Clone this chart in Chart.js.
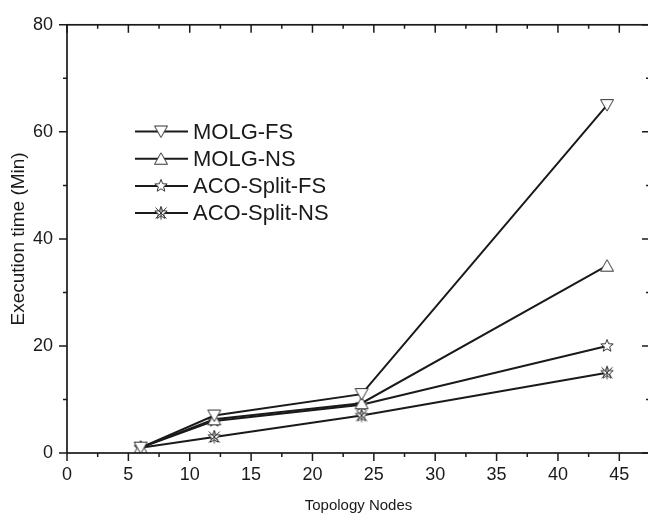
<!DOCTYPE html>
<html><head><meta charset="utf-8">
<script src="https://cdn.jsdelivr.net/npm/chart.js@4/dist/chart.umd.min.js"></script>
<style>html,body{margin:0;padding:0;background:#fff;overflow:hidden;width:648px;height:515px}#wrap{position:relative;width:651px;height:515px}</style>
</head><body><div id="wrap"><canvas id="c"></canvas></div>
<script>
// ---- data ----
const nodes = [6, 12, 24, 44];
const molgFS = [1, 7, 11, 65];
const molgNS = [1, 6.3, 9.3, 35];
const acoFS = [1, 6, 9, 20];
const acoNS = [1, 3, 7, 15];
const seriesNames = ['MOLG-FS', 'MOLG-NS', 'ACO-Split-FS', 'ACO-Split-NS'];
const xTickLabels = [0, 5, 10, 15, 20, 25, 30, 35, 40, 45];
const yTickLabels = [0, 20, 40, 60, 80];

const FONT = '"Liberation Sans", Arial, Helvetica, sans-serif';
const INK = '#1a1a1a';

// ---- marker images ----
function mk(drawFn) {
  const c = document.createElement('canvas');
  c.width = 16; c.height = 16;
  const g = c.getContext('2d');
  g.translate(8, 8);
  g.lineWidth = 1; g.strokeStyle = '#333'; g.fillStyle = '#fff';
  drawFn(g);
  return c;
}
function starPath(g, ro, ri) {
  g.beginPath();
  for (let k = 0; k < 10; k++) {
    const r = k % 2 ? ri : ro;
    const a = -Math.PI / 2 + k * Math.PI / 5;
    const px = r * Math.cos(a), py = r * Math.sin(a);
    k ? g.lineTo(px, py) : g.moveTo(px, py);
  }
  g.closePath();
}
const mDown = mk(g => { g.beginPath(); g.moveTo(-6.5, -5.5); g.lineTo(6.5, -5.5); g.lineTo(0, 6); g.closePath(); g.fill(); g.stroke(); });
const mUp = mk(g => { g.beginPath(); g.moveTo(-6.5, 5.5); g.lineTo(6.5, 5.5); g.lineTo(0, -6); g.closePath(); g.fill(); g.stroke(); });
const mStar = mk(g => { starPath(g, 6.5, 2.8); g.fill(); g.stroke(); });
const mStarX = mk(g => {
  starPath(g, 6.5, 2.8); g.fill(); g.stroke();
  g.beginPath(); g.moveTo(-5.5, -5.5); g.lineTo(5.5, 5.5); g.moveTo(5.5, -5.5); g.lineTo(-5.5, 5.5); g.moveTo(0,-6.5); g.lineTo(0,6.5); g.stroke();
});
const markers = [mDown, mUp, mStar, mStarX];
const seriesValues = [molgFS, molgNS, acoFS, acoNS];

const datasets = seriesValues.map((vals, i) => ({
  label: seriesNames[i],
  data: nodes.map((x, j) => ({ x: x, y: vals[j] })),
  borderColor: INK,
  backgroundColor: '#fff',
  borderWidth: 2,
  pointStyle: markers[i],
  pointRadius: 7,
  pointHoverRadius: 7,
  tension: 0,
  fill: false
}));

// ---- axes frame with major/minor ticks ----
const framePlugin = {
  id: 'frame',
  afterDraw(chart) {
    const { ctx, chartArea: a, scales } = chart;
    const xs = scales.x, ys = scales.y;
    ctx.save();
    ctx.strokeStyle = INK; ctx.lineWidth = 1.7;
    ctx.strokeRect(a.left, a.top, a.right - a.left, a.bottom - a.top);
    ctx.lineWidth = 1.5;
    ctx.beginPath();
    for (let v = 0; v <= xs.max + 1e-9; v += 2.5) {
      const px = xs.getPixelForValue(v);
      const len = (Math.abs(v % 5) < 1e-9) ? 8 : 4;
      ctx.moveTo(px, a.bottom); ctx.lineTo(px, a.bottom + len);
      ctx.moveTo(px, a.top); ctx.lineTo(px, a.top + len);
    }
    for (let v = 0; v <= ys.max + 1e-9; v += 10) {
      const py = ys.getPixelForValue(v);
      const len = (v % 20 === 0) ? 8 : 4;
      ctx.moveTo(a.left, py); ctx.lineTo(a.left - len, py);
      ctx.moveTo(a.right, py); ctx.lineTo(a.right - len, py);
    }
    ctx.stroke();
    ctx.restore();
  }
};

// ---- in-plot legend (line-marker-line samples) ----
const legendPlugin = {
  id: 'innerLegend',
  afterDraw(chart) {
    const ctx = chart.ctx;
    ctx.save();
    chart.data.datasets.forEach((ds, i) => {
      const y = 131.5 + i * 27.2;
      ctx.strokeStyle = INK; ctx.lineWidth = 2;
      ctx.beginPath(); ctx.moveTo(135, y); ctx.lineTo(188, y); ctx.stroke();
      const m = ds.pointStyle;
      ctx.drawImage(m, 161 - m.width / 2, y - m.height / 2);
      ctx.fillStyle = INK;
      ctx.font = '22px ' + FONT;
      ctx.textBaseline = 'middle';
      ctx.textAlign = 'left';
      ctx.fillText(ds.label, 193, y + 1);
    });
    ctx.restore();
  }
};

new Chart(document.getElementById('c'), {
  type: 'line',
  data: { datasets },
  plugins: [framePlugin, legendPlugin],
  options: {
    responsive: true,
    maintainAspectRatio: false,
    animation: false,
    layout: { autoPadding: false, padding: { top: 19, right: 1, left: 0, bottom: 0 } },
    plugins: { legend: { display: false }, tooltip: { enabled: false } },
    scales: {
      x: {
        type: 'linear', min: 0, max: 47.5,
        afterBuildTicks: s => { s.ticks = xTickLabels.map(v => ({ value: v })); },
        afterFit: s => { s.height = 62; s.paddingRight = 0; s.paddingLeft = 0; },
        grid: { display: false, drawTicks: false },
        border: { display: false },
        ticks: { color: INK, font: { family: FONT, size: 18 }, padding: 11, maxRotation: 0, autoSkip: false },
        title: { display: true, text: 'Topology Nodes', color: INK, font: { family: FONT, size: 15 }, padding: { top: 0, bottom: 0 } }
      },
      y: {
        type: 'linear', min: 0, max: 80,
        afterBuildTicks: s => { s.ticks = yTickLabels.map(v => ({ value: v })); },
        afterFit: s => { s.width = 67; },
        grid: { display: false, drawTicks: false },
        border: { display: false },
        ticks: { color: INK, font: { family: FONT, size: 18 }, padding: 14 },
        title: { display: true, text: 'Execution time (Min)', color: INK, font: { family: FONT, size: 19 }, padding: { bottom: 0, top: 7 } }
      }
    }
  }
});
</script></body></html>
